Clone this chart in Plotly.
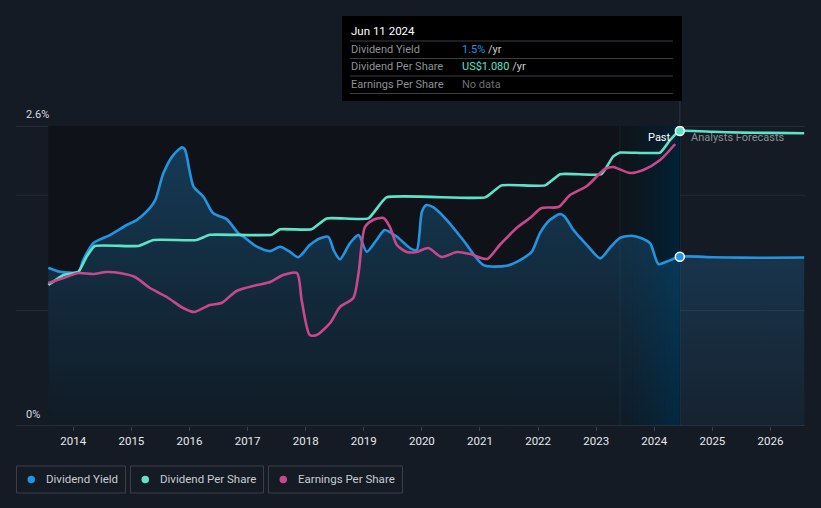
import plotly.graph_objects as go

# ---------------- data (decimal years) ----------------
yield_x = [2013.57, 2013.77, 2014.09, 2014.17, 2014.34, 2014.46, 2014.63, 2014.92, 2015.09, 2015.26,
           2015.41, 2015.55, 2015.72, 2015.87, 2015.92, 2016.07, 2016.24, 2016.41, 2016.64, 2016.84,
           2016.93, 2017.16, 2017.39, 2017.56, 2017.73, 2017.87, 2018.07, 2018.25, 2018.39, 2018.48,
           2018.59, 2018.76, 2018.91, 2019.05, 2019.22, 2019.36, 2019.57, 2019.80, 2019.91, 2020.00,
           2020.08, 2020.20, 2020.43, 2020.71, 2021.06, 2021.46, 2021.69, 2021.89, 2022.03, 2022.20,
           2022.38, 2022.46, 2022.61, 2022.84, 2023.07, 2023.24, 2023.41, 2023.61, 2023.78, 2023.93,
           2024.07, 2024.21, 2024.44, 2025.0, 2025.5, 2026.0, 2026.58]
yield_pct = [1.372, 1.337, 1.337, 1.438, 1.583, 1.618, 1.655, 1.742, 1.785, 1.857,
             1.958, 2.190, 2.348, 2.415, 2.398, 2.074, 1.987, 1.843, 1.793, 1.670,
             1.640, 1.554, 1.516, 1.554, 1.510, 1.462, 1.568, 1.627, 1.640, 1.525,
             1.445, 1.583, 1.655, 1.510, 1.612, 1.698, 1.640, 1.540, 1.525, 1.857,
             1.915, 1.895, 1.785, 1.612, 1.395, 1.389, 1.438, 1.510, 1.670, 1.785,
             1.837, 1.814, 1.698, 1.568, 1.453, 1.547, 1.630, 1.649, 1.627, 1.583,
             1.404, 1.424, 1.467, 1.463, 1.459, 1.458, 1.460]

dps_x = [2013.57, 2013.83, 2014.09, 2014.23, 2014.37, 2015.12, 2015.38, 2016.12, 2016.35, 2017.41,
         2017.56, 2018.10, 2018.36, 2019.08, 2019.39, 2021.09, 2021.37, 2022.12, 2022.38, 2023.09,
         2023.29, 2023.41, 2024.10, 2024.27, 2024.44, 2025.0, 2025.5, 2026.0, 2026.58]
dps_usd = [0.516, 0.553, 0.565, 0.620, 0.659, 0.659, 0.681, 0.681, 0.700, 0.700,
           0.720, 0.720, 0.760, 0.760, 0.837, 0.837, 0.881, 0.881, 0.922, 0.922,
           0.986, 1.001, 1.001, 1.047, 1.080, 1.077, 1.074, 1.073, 1.072]

eps_x = [2013.57, 2013.83, 2014.09, 2014.34, 2014.57, 2014.80, 2015.06, 2015.32, 2015.61, 2015.89,
         2016.08, 2016.35, 2016.55, 2016.81, 2017.16, 2017.39, 2017.61, 2017.85, 2017.93, 2018.07,
         2018.19, 2018.42, 2018.59, 2018.82, 2018.91, 2019.02, 2019.16, 2019.34, 2019.45, 2019.57,
         2019.74, 2019.91, 2020.11, 2020.34, 2020.60, 2020.83, 2021.12, 2021.34, 2021.63, 2021.86,
         2022.06, 2022.35, 2022.55, 2022.84, 2023.15, 2023.29, 2023.58, 2023.81, 2024.10, 2024.36]
eps_usd = [1.43, 1.48, 1.53, 1.52, 1.54, 1.53, 1.49, 1.38, 1.29, 1.18,
           1.14, 1.21, 1.23, 1.35, 1.41, 1.44, 1.51, 1.53, 1.26, 0.91,
           0.91, 1.03, 1.19, 1.28, 1.53, 1.99, 2.06, 2.08, 1.99, 1.81,
           1.74, 1.74, 1.78, 1.69, 1.74, 1.72, 1.67, 1.81, 1.98, 2.08,
           2.18, 2.19, 2.31, 2.40, 2.57, 2.59, 2.53, 2.56, 2.66, 2.82]

year_ticks = list(range(2014, 2027))
today = 2024.44
past_start = 2023.41
y_ticks_pct = [0, 1, 2, 2.6]

C_YIELD = "#2394df"
C_DPS = "#5fe3c8"
C_EPS = "#c8488c"
BG = "#151b25"
FONT = "Roboto, Noto Sans, sans-serif"


def px(x):
    return (x - 16) / 789.0


def py(y):
    return (426 - y) / 300.0


fig = go.Figure()

fig.add_trace(go.Scatter(
    x=yield_x, y=yield_pct, mode="lines", name="Dividend Yield",
    line=dict(color=C_YIELD, width=2.6, shape="spline", smoothing=0.7),
    fill="tozeroy",
    fillgradient=dict(type="vertical",
                      colorscale=[[0, "rgba(35,148,223,0.06)"], [1, "rgba(35,148,223,0.30)"]]),
    yaxis="y", hoverinfo="skip"))

fig.add_trace(go.Scatter(
    x=dps_x, y=dps_usd, mode="lines", name="Dividend Per Share",
    line=dict(color=C_DPS, width=2.6, shape="spline", smoothing=0.4),
    yaxis="y2", hoverinfo="skip"))

fig.add_trace(go.Scatter(
    x=eps_x, y=eps_usd, mode="lines", name="Earnings Per Share",
    line=dict(color=C_EPS, width=2.6, shape="spline", smoothing=0.7),
    yaxis="y3", hoverinfo="skip"))

# markers at today
fig.add_trace(go.Scatter(x=[yield_x[yield_x.index(today)]], y=[yield_pct[yield_x.index(today)]],
                         mode="markers", yaxis="y",
                         marker=dict(size=9, color=C_YIELD, line=dict(color="white", width=1.5)),
                         hoverinfo="skip"))
fig.add_trace(go.Scatter(x=[dps_x[dps_x.index(today)]], y=[dps_usd[dps_x.index(today)]],
                         mode="markers", yaxis="y2",
                         marker=dict(size=9, color=C_DPS, line=dict(color="white", width=1.5)),
                         hoverinfo="skip"))

shapes = []
# dark past region (up to today)
shapes.append(dict(type="rect", xref="x", yref="y", x0=yield_x[0], x1=today, y0=0, y1=2.6,
                   fillcolor="#0f1319", line=dict(width=0), layer="below"))
# highlight gradient for the last year: overlapping rects all ending at today
n = 14
for i in range(n):
    a0 = past_start + (today - past_start) * (i / n) ** 0.8
    shapes.append(dict(type="rect", xref="x", yref="y", x0=a0, x1=today, y0=0, y1=2.6,
                       fillcolor="rgba(30,110,185,0.017)", line=dict(width=0), layer="below"))
shapes.append(dict(type="line", xref="x", yref="y", x0=past_start, x1=past_start, y0=0, y1=2.6,
                   line=dict(color="rgba(60,100,140,0.18)", width=1), layer="below"))
# gridlines
for v, col in [(1, "#242b35"), (2, "#242b35"), (2.6, "#3b414b")]:
    shapes.append(dict(type="line", xref="paper", yref="y", x0=0, x1=1, y0=v, y1=v,
                       line=dict(color=col, width=1), layer="below"))
shapes.append(dict(type="line", xref="paper", yref="y", x0=0, x1=1, y0=0, y1=0,
                   line=dict(color="#3b414b", width=1), layer="above"))
# vertical today line
shapes.append(dict(type="line", xref="x", yref="paper", x0=today, x1=today, y0=0, y1=py(101),
                   line=dict(color="#2a3848", width=1), layer="below"))
# tooltip box
shapes.append(dict(type="rect", xref="paper", yref="paper", x0=px(342), x1=px(682), y0=py(101), y1=py(16),
                   fillcolor="#000000", line=dict(width=0), layer="above"))
for yy in [41, 58.5, 76, 93.5]:
    shapes.append(dict(type="line", xref="paper", yref="paper", x0=px(350), x1=px(673), y0=py(yy), y1=py(yy),
                       line=dict(color="#3a3d42", width=1), layer="above"))
# legend boxes
legend_items = [("Dividend Yield", C_YIELD, 16.5, 125.5), ("Dividend Per Share", C_DPS, 130.5, 263.5),
                ("Earnings Per Share", C_EPS, 268.5, 402.5)]
for label, col, x0, x1 in legend_items:
    shapes.append(dict(type="rect", xref="paper", yref="paper", x0=px(x0), x1=px(x1), y0=py(493), y1=py(466),
                       fillcolor="rgba(0,0,0,0)", line=dict(color="#3a3f48", width=1)))
    shapes.append(dict(type="circle", xref="paper", yref="paper", x0=px(x0 + 11), x1=px(x0 + 18.5),
                       y0=py(483.3), y1=py(475.8), fillcolor=col, line=dict(width=0)))

ann = []
ann.append(dict(xref="paper", yref="y", x=px(24), y=2.6, text="2.6%", showarrow=False,
                xanchor="left", yanchor="bottom", yshift=3, font=dict(color="#d8dce2", size=11, family=FONT)))
ann.append(dict(xref="paper", yref="y", x=px(24), y=0, text="0%", showarrow=False,
                xanchor="left", yanchor="bottom", yshift=3, font=dict(color="#d8dce2", size=11, family=FONT)))
ann.append(dict(xref="paper", yref="paper", x=px(673), y=py(137), text="Past", showarrow=False,
                xanchor="right", yanchor="middle", font=dict(color="#ffffff", size=11, family=FONT)))
ann.append(dict(xref="paper", yref="paper", x=px(689), y=py(137), text="Analysts Forecasts", showarrow=False,
                xanchor="left", yanchor="middle", font=dict(color="#8a8f98", size=11, family=FONT)))
# tooltip texts
ann.append(dict(xref="paper", yref="paper", x=px(349), y=py(31), text="Jun 11 2024", showarrow=False,
                xanchor="left", yanchor="middle", font=dict(color="#ffffff", size=11.5, family=FONT)))
rows = [("Dividend Yield", f"<span style='color:{C_YIELD}'>1.5%</span> /yr", 49.5),
        ("Dividend Per Share", f"<span style='color:{C_DPS}'>US$1.080</span> /yr", 67),
        ("Earnings Per Share", "<span style='color:#6b6f76'>No data</span>", 84.5)]
for lab, val, yy in rows:
    ann.append(dict(xref="paper", yref="paper", x=px(349), y=py(yy), text=lab, showarrow=False,
                    xanchor="left", yanchor="middle", font=dict(color="#8d9198", size=11, family=FONT)))
    ann.append(dict(xref="paper", yref="paper", x=px(460), y=py(yy), text=val, showarrow=False,
                    xanchor="left", yanchor="middle", font=dict(color="#c9ccd1", size=11, family=FONT)))
for label, col, x0, x1 in legend_items:
    ann.append(dict(xref="paper", yref="paper", x=px(x0 + 27), y=py(479.5), text=label, showarrow=False,
                    xanchor="left", yanchor="middle", font=dict(color="#c8ccd2", size=11.5, family=FONT)))

fig.update_layout(
    width=821, height=508,
    margin=dict(l=16, r=16, t=126, b=82),
    paper_bgcolor=BG, plot_bgcolor=BG,
    showlegend=False, hovermode=False,
    shapes=shapes, annotations=ann,
    xaxis=dict(range=[2013.014, 2026.594], tickvals=year_ticks, ticktext=[str(y) for y in year_ticks],
               showgrid=False, zeroline=False, showline=False, ticks="outside", ticklen=4,
               tickcolor="#3b414b", tickfont=dict(color="#e6e8ec", size=11.5, family=FONT)),
    yaxis=dict(range=[0, 2.6], tickvals=y_ticks_pct, showticklabels=False, showgrid=False,
               zeroline=False, showline=False),
    yaxis2=dict(range=[0, 1.08 * 300 / 295], overlaying="y", visible=False),
    yaxis3=dict(range=[0, 3.0], overlaying="y", visible=False),
)

fig.write_html("out.html", config={"displayModeBar": False},
               post_script="document.body.style.margin='0';")
